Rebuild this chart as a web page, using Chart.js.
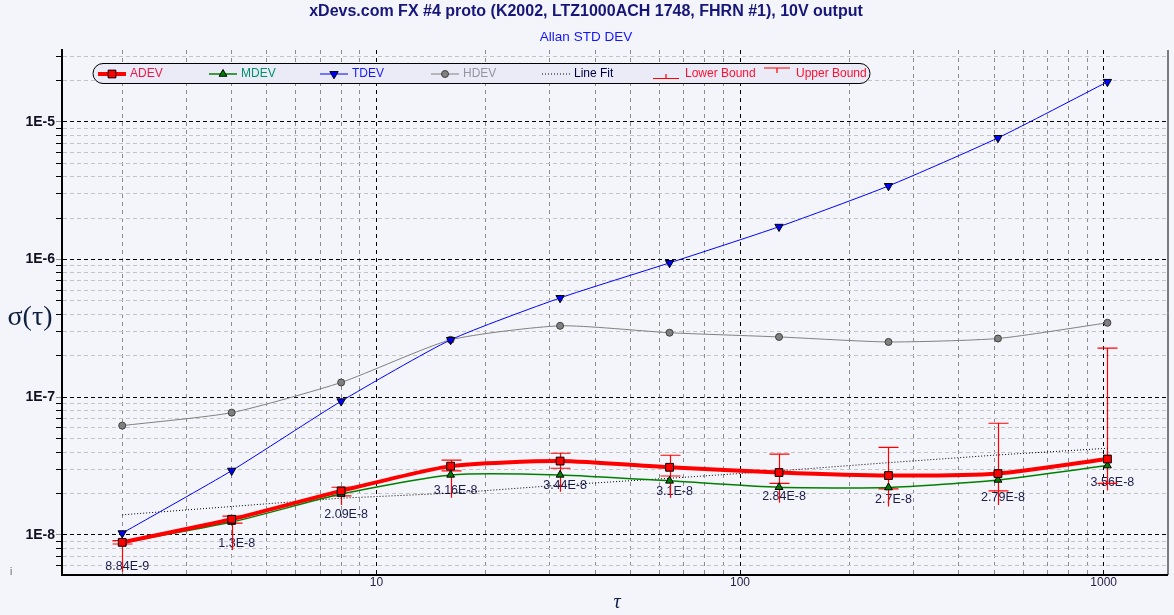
<!DOCTYPE html>
<html>
<head>
<meta charset="utf-8">
<script src="https://cdn.jsdelivr.net/npm/chart.js@4.4.0/dist/chart.umd.min.js"></script>
<style>
  html, body { margin: 0; padding: 0; background: #f4f5fa; }
  #wrap { width: 1174px; height: 615px; }
</style>
</head>
<body>
<div id="wrap"><canvas id="chart" width="1174" height="615"></canvas></div>
<script>
// averaging times
const taus = [2, 4, 8, 16, 32, 64, 128, 256, 512, 1024];

// deviations
const adev = [8.84e-9, 1.3e-8, 2.09e-8, 3.16e-8, 3.44e-8, 3.1e-8, 2.84e-8, 2.7e-8, 2.79e-8, 3.56e-8];
const adevLabels = ['8.84E-9', '1.3E-8', '2.09E-8', '3.16E-8', '3.44E-8', '3.1E-8', '2.84E-8', '2.7E-8', '2.79E-8', '3.56E-8'];
const mdev = [8.8e-9, 1.24e-8, 1.98e-8, 2.73e-8, 2.73e-8, 2.47e-8, 2.22e-8, 2.21e-8, 2.51e-8, 3.19e-8];
const tdev = [1.03e-8, 2.93e-8, 9.35e-8, 2.61e-7, 5.26e-7, 9.45e-7, 1.73e-6, 3.42e-6, 7.64e-6, 1.95e-5];
const hdev = [6.22e-8, 7.73e-8, 1.28e-7, 2.61e-7, 3.3e-7, 2.94e-7, 2.74e-7, 2.52e-7, 2.67e-7, 3.47e-7];
const lineFit = [1.40e-8, 1.61e-8, 1.85e-8, 2.01e-8, 2.30e-8, 2.58e-8, 2.92e-8, 3.35e-8, 3.81e-8, 4.26e-8];

// ADEV confidence bounds
const adevUpper = [9.09e-9, 1.37e-8, 2.22e-8, 3.49e-8, 3.92e-8, 3.79e-8, 3.86e-8, 4.33e-8, 6.47e-8, 2.27e-7];
const adevLower = [8.6e-9, 1.22e-8, 1.92e-8, 2.92e-8, 3.05e-8, 2.68e-8, 2.37e-8, 2.16e-8, 2.09e-8, 2.37e-8];
const adevLowerTail = [5.38e-9, 7.78e-9, 1.65e-8, 1.86e-8, 2.06e-8, 1.86e-8, 1.71e-8, 1.61e-8, 1.65e-8, 2.10e-8];

const xMin = 1.366, xMax = 1498;
const yMin = 5.12e-9, yMax = 3.32e-5;

function pts(arr) {
    return taus.map(function (t, i) { return { x: t, y: arr[i] }; });
}

function isDecade(v) {
    const l = Math.log10(v);
    return Math.abs(l - Math.round(l)) < 1e-6;
}

// 1..9 x 10^n inside a range
function logTicks(min, max) {
    const out = [];
    for (let e = Math.floor(Math.log10(min)); e <= Math.ceil(Math.log10(max)); e++) {
        for (let m = 1; m <= 9; m++) {
            const v = parseFloat(m + 'e' + e);
            if (v >= min && v <= max) out.push({ value: v });
        }
    }
    return out;
}

const extras = {
    id: 'extras',
    beforeDraw(chart) {
        const ctx = chart.ctx;
        ctx.save();
        ctx.fillStyle = '#f4f5fa';
        ctx.fillRect(0, 0, chart.width, chart.height);
        ctx.restore();
    },
    beforeDatasetsDraw(chart) {
        const ctx = chart.ctx;
        const xs = chart.scales.x, ys = chart.scales.y;
        ctx.save();
        // value labels under ADEV points
        ctx.font = '12.5px "Liberation Sans", Arial, sans-serif';
        ctx.fillStyle = '#1c1c4c';
        ctx.textAlign = 'center';
        ctx.textBaseline = 'middle';
        taus.forEach(function (t, i) {
            ctx.fillText(adevLabels[i], xs.getPixelForValue(t) + 5, ys.getPixelForValue(adev[i]) + 24);
        });
        // error bars
        ctx.strokeStyle = '#ff0000';
        ctx.lineWidth = 1.2;
        taus.forEach(function (t, i) {
            const x = Math.round(xs.getPixelForValue(t)) + 0.5;
            const yu = ys.getPixelForValue(adevUpper[i]);
            const yl = ys.getPixelForValue(adevLower[i]);
            const yt = ys.getPixelForValue(adevLowerTail[i]);
            ctx.beginPath();
            ctx.moveTo(x, yu); ctx.lineTo(x, yt);
            ctx.moveTo(x - 10, yu); ctx.lineTo(x + 10, yu);
            ctx.moveTo(x - 10, yl); ctx.lineTo(x + 10, yl);
            ctx.stroke();
        });
        ctx.restore();
    },
    afterDraw(chart) {
        const ctx = chart.ctx;
        const a = chart.chartArea;
        ctx.save();
        // right frame
        ctx.strokeStyle = '#000';
        ctx.lineWidth = 1;
        ctx.beginPath();
        ctx.moveTo(a.right + 0.5, a.top);
        ctx.lineTo(a.right + 0.5, a.bottom);
        ctx.stroke();

        // titles
        ctx.textAlign = 'center';
        ctx.textBaseline = 'middle';
        ctx.fillStyle = '#16167a';
        ctx.font = 'bold 16px "Liberation Sans", Arial, sans-serif';
        ctx.fillText('xDevs.com FX #4 proto (K2002, LTZ1000ACH 1748, FHRN #1), 10V output', 586, 12);
        ctx.fillStyle = '#1414ff';
        ctx.font = '13.5px "Liberation Sans", Arial, sans-serif';
        ctx.fillText('Allan STD DEV', 586, 37);

        // axis titles
        ctx.fillStyle = '#102040';
        ctx.font = '28px "Liberation Serif", "DejaVu Serif", serif';
        ctx.fillText('σ(τ)', 30, 318);
        ctx.font = 'italic 20px "Liberation Serif", "DejaVu Serif", serif';
        ctx.fillText('τ', 617, 603);
        ctx.fillStyle = '#606070';
        ctx.font = '10px "Liberation Sans", Arial, sans-serif';
        ctx.fillText('i', 11, 572);

        // legend
        const lx = 93, ly = 63.5, lw = 777, lh = 20, r = 10;
        ctx.beginPath();
        ctx.moveTo(lx + r, ly);
        ctx.lineTo(lx + lw - r, ly);
        ctx.arcTo(lx + lw, ly, lx + lw, ly + r, r);
        ctx.arcTo(lx + lw, ly + lh, lx + lw - r, ly + lh, r);
        ctx.lineTo(lx + r, ly + lh);
        ctx.arcTo(lx, ly + lh, lx, ly + lh - r, r);
        ctx.arcTo(lx, ly, lx + r, ly, r);
        ctx.closePath();
        ctx.fillStyle = '#ebebf7';
        ctx.fill();
        ctx.strokeStyle = '#000';
        ctx.lineWidth = 1;
        ctx.stroke();

        const textColors = ['#f01848', '#00906a', '#1818ff', '#9494a4', '#000040', '#ff1030', '#ff1030'];
        const cy = 74;
        ctx.textAlign = 'left';
        ctx.font = '12px "Liberation Sans", Arial, sans-serif';
        chart.data.datasets.forEach(function (ds, i) {
            const x0 = 98 + i * 111;
            ctx.save();
            ctx.strokeStyle = ds.borderColor;
            ctx.lineWidth = ds.borderWidth;
            ctx.setLineDash(ds.borderDash || []);
            ctx.beginPath();
            ctx.moveTo(x0, cy); ctx.lineTo(x0 + 28, cy);
            ctx.stroke();
            ctx.setLineDash([]);
            if (ds.pointRadius > 0) {
                ctx.fillStyle = ds.pointBackgroundColor;
                ctx.strokeStyle = ds.pointBorderColor;
                ctx.lineWidth = 1;
                Chart.helpers.drawPoint(ctx, {
                    pointStyle: ds.pointStyle, radius: ds.pointRadius,
                    rotation: ds.pointRotation || 0, borderWidth: 1
                }, x0 + 14, cy);
            }
            ctx.restore();
            ctx.fillStyle = textColors[i];
            ctx.fillText(ds.label, x0 + 32, cy);
        });
        // bound symbols
        ctx.strokeStyle = '#ff0000';
        ctx.lineWidth = 1.2;
        let x0 = 98 + 5 * 111;
        ctx.beginPath();
        ctx.moveTo(x0, 78.5); ctx.lineTo(x0 + 26, 78.5);
        ctx.moveTo(x0 + 13, 78.5); ctx.lineTo(x0 + 13, 74);
        ctx.stroke();
        ctx.fillStyle = textColors[5];
        ctx.fillText('Lower Bound', x0 + 32, cy);
        x0 = 98 + 6 * 111;
        ctx.beginPath();
        ctx.moveTo(x0, 68); ctx.lineTo(x0 + 26, 68);
        ctx.moveTo(x0 + 13, 68); ctx.lineTo(x0 + 13, 73);
        ctx.stroke();
        ctx.fillStyle = textColors[6];
        ctx.fillText('Upper Bound', x0 + 32, cy);
        ctx.restore();
    }
};

const ctx = document.getElementById('chart').getContext('2d');
const chart = new Chart(ctx, {
    type: 'line',
    data: {
        datasets: [{
            label: 'ADEV',
            data: pts(adev),
            borderColor: '#ff0000',
            borderWidth: 4,
            pointStyle: 'rect',
            pointRadius: 5.5,
            pointBackgroundColor: '#ff0000',
            pointBorderColor: '#000000',
            pointBorderWidth: 1,
            tension: 0.2
        }, {
            label: 'MDEV',
            data: pts(mdev),
            borderColor: '#008000',
            borderWidth: 1.5,
            pointStyle: 'triangle',
            pointRadius: 4.5,
            pointBackgroundColor: '#008000',
            pointBorderColor: '#000000',
            pointBorderWidth: 1,
            tension: 0.2
        }, {
            label: 'TDEV',
            data: pts(tdev),
            borderColor: '#0000ff',
            borderWidth: 1,
            pointStyle: 'triangle',
            pointRotation: 180,
            pointRadius: 4.8,
            pointBackgroundColor: '#0000ff',
            pointBorderColor: '#000000',
            pointBorderWidth: 1,
            tension: 0.2
        }, {
            label: 'HDEV',
            data: pts(hdev),
            borderColor: '#808080',
            borderWidth: 1,
            pointStyle: 'circle',
            pointRadius: 3.5,
            pointBackgroundColor: '#808080',
            pointBorderColor: '#404040',
            pointBorderWidth: 1,
            tension: 0.2
        }, {
            label: 'Line Fit',
            data: pts(lineFit),
            borderColor: '#000000',
            borderWidth: 1,
            borderDash: [1, 2],
            pointRadius: 0,
            tension: 0
        }]
    },
    options: {
        responsive: false,
        animation: false,
        layout: { padding: { top: 50, right: 6, left: 0, bottom: 0 } },
        plugins: {
            legend: { display: false },
            title: { display: false },
            tooltip: { enabled: false }
        },
        scales: {
            x: {
                type: 'logarithmic',
                min: xMin,
                max: xMax,
                afterBuildTicks: function (s) { s.ticks = logTicks(xMin, xMax); },
                afterFit: function (s) { s.height = 40; },
                grid: {
                    color: function (c) { return isDecade(c.tick.value) ? '#000000' : '#8c8c8c'; },
                    lineWidth: 1,
                    drawTicks: false
                },
                border: { display: true, color: '#000000', width: 2, dash: [4, 4] },
                ticks: {
                    autoSkip: false,
                    maxRotation: 0,
                    padding: 0,
                    color: '#28204a',
                    font: { family: '"Liberation Sans", Arial, sans-serif', size: 12 },
                    callback: function (v) { return isDecade(v) ? String(Math.round(v)) : ''; }
                }
            },
            y: {
                type: 'logarithmic',
                min: yMin,
                max: yMax,
                afterBuildTicks: function (s) { s.ticks = logTicks(yMin, yMax); },
                afterFit: function (s) { s.width = 62; },
                grid: {
                    color: function (c) { return isDecade(c.tick.value) ? '#000000' : '#c4c4c4'; },
                    lineWidth: 1,
                    drawTicks: true,
                    tickLength: 6,
                    tickColor: function (c) { return isDecade(c.tick.value) ? '#909090' : '#000000'; }
                },
                border: { display: true, color: '#000000', width: 2, dash: [4, 3] },
                ticks: {
                    autoSkip: false,
                    padding: 1,
                    color: '#101020',
                    font: { family: '"Liberation Sans", Arial, sans-serif', size: 14, weight: 'bold' },
                    callback: function (v) { return isDecade(v) ? '1E' + Math.round(Math.log10(v)) : ''; }
                }
            }
        }
    },
    plugins: [extras]
});
</script>
</body>
</html>
